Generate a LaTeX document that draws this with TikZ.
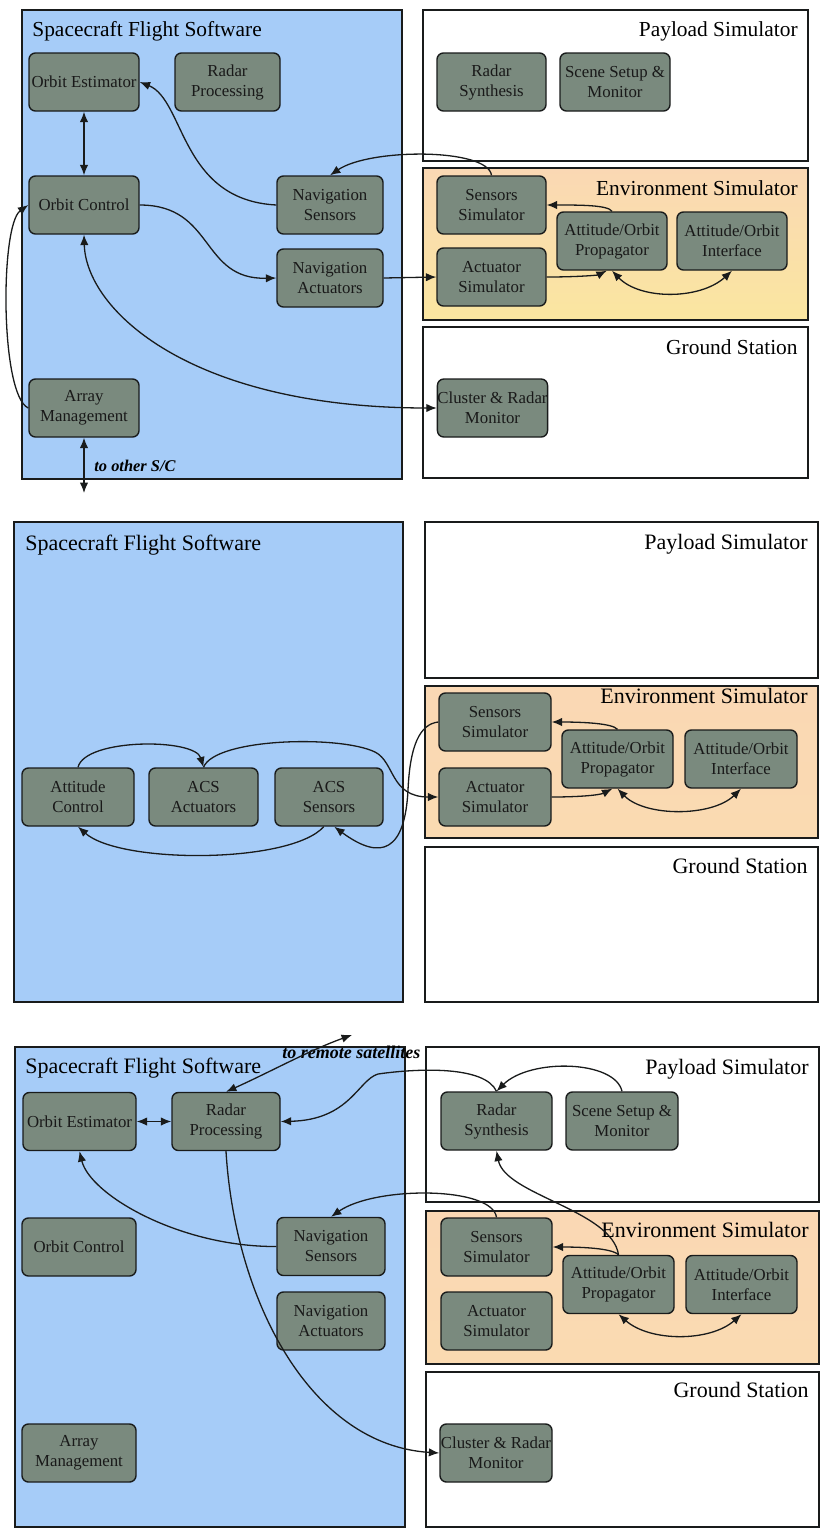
\documentclass[tikz,border=0pt]{standalone}
\usepackage{fontspec}
\setmainfont{Liberation Serif}
\newfontfamily\diagfont{Liberation Serif}
\usetikzlibrary{arrows.meta}

\definecolor{fswblue}{RGB}{166,204,248}
\definecolor{envpeach}{RGB}{250,216,180}
\definecolor{envyellow}{RGB}{250,230,160}
\definecolor{blockfill}{RGB}{122,138,126}
\definecolor{inkline}{RGB}{25,27,27}

\begin{document}
\begin{tikzpicture}[x=0.5pt,y=-0.5pt,
  blk/.style={draw=inkline, line width=0.7pt, fill=blockfill, rounded corners=3.2pt,
    minimum width=55pt, minimum height=29pt, inner sep=0pt, align=center,
    font=\diagfont\fontsize{8.4}{10}\selectfont, text=black!90},
  frame/.style={draw=inkline, line width=0.8pt},
  ttl/.style={font=\diagfont\fontsize{10.7}{12}\selectfont, inner sep=0pt},
  ttlb/.style={font=\diagfont\fontsize{11}{12}\selectfont, inner sep=0pt},
  tip/.tip={Latex[length=5.2pt,width=4.2pt]},
  lnk/.style={draw=inkline, line width=0.65pt, -tip},
  dlnk/.style={draw=inkline, line width=0.65pt, tip-tip},
  note/.style={font=\diagfont\fontsize{8.2}{10}\selectfont\bfseries\itshape, inner sep=0pt}
]
\useasboundingbox (0,0) rectangle (822,1532);
\fill[white] (0,0) rectangle (822,1532);

% ---------- first configuration: orbit control loop ----------
\filldraw[frame, fill=fswblue] (22,10) rectangle (402,479);
\filldraw[frame, fill=white] (423,10) rectangle (808,161);
\shade[top color=envpeach, bottom color=envyellow] (423,168) rectangle (808,320);
\draw[frame] (423,168) rectangle (808,320);
\filldraw[frame, fill=white] (423,327) rectangle (808,478);

\node[ttl, anchor=base west] (fswA) at (32,36) {Spacecraft Flight Software};
\node[ttl, anchor=base east] (payA) at (798,36) {Payload Simulator};
\node[ttl, anchor=base east] (envA) at (798,195) {Environment Simulator};
\node[ttl, anchor=base east] (gndA) at (798,354) {Ground Station};

\node[blk] (oeA) at (84,82) {Orbit Estimator};
\node[blk, minimum width=52.5pt] (rpA) at (227.5,82) {Radar\\Processing};
\node[blk] (ocA) at (84,205) {Orbit Control};
\node[blk, minimum width=53pt] (nsA) at (330,205) {Navigation\\Sensors};
\node[blk, minimum width=53pt] (naA) at (330,278) {Navigation\\Actuators};
\node[blk] (amA) at (84,408) {Array\\Management};

\node[blk, minimum width=54.5pt] (rsA) at (491.5,82) {Radar\\Synthesis};
\node[blk] (ssA) at (615,82) {Scene Setup \&\\Monitor};
\node[blk, minimum width=54.5pt] (snA) at (491.5,205) {Sensors\\Simulator};
\node[blk] (apA) at (612,241) {Attitude/Orbit\\Propagator};
\node[blk] (aiA) at (732,241) {Attitude/Orbit\\Interface};
\node[blk, minimum width=54.5pt] (atA) at (491.5,277) {Actuator\\Simulator};
\node[blk, minimum width=54.5pt] (crA) at (492.5,408) {Cluster \& Radar\\Monitor};

\coordinate (scA) at (84,493);
\node[note, anchor=base west] (toscA) at (94,471) {to other S/C};

\draw[dlnk] (oeA.south) -- (ocA.north);
\draw[lnk] (nsA.west) .. controls (180,200) and (185,100) .. (oeA.east);
\draw[lnk] (snA.north) .. controls (488,148) and (370,148) .. (nsA.north);
\draw[lnk] (ocA.east) .. controls (215,205) and (200,280) .. (naA.west);
\draw[lnk] (naA.east) -- (atA.west);
\draw[lnk] (atA.east) .. controls (580,277) and (598,275) .. (apA.-100);
\draw[lnk] (apA.north) .. controls (608,205) and (580,205) .. (snA.east);
\draw[dlnk] (apA.south) .. controls (640,300) and (700,300) .. (aiA.south);
\draw[dlnk] (ocA.south) .. controls (86,310) and (190,408) .. (crA.west);
\draw[lnk] (amA.west) .. controls (0,395) and (0,225) .. (ocA.west);
\draw[dlnk] (amA.south) -- (scA);

% ---------- second configuration: attitude control loop ----------
\filldraw[frame, fill=fswblue] (14,522) rectangle (403,1002);
\filldraw[frame, fill=white] (425,522) rectangle (818,678);
\shade[top color=envpeach, bottom color=envpeach!85!envyellow] (425,686) rectangle (818,838);
\draw[frame] (425,686) rectangle (818,838);
\filldraw[frame, fill=white] (425,847) rectangle (818,1002);

\node[ttlb, anchor=base west] (fswB) at (25,550) {Spacecraft Flight Software};
\node[ttlb, anchor=base east] (payB) at (808,549) {Payload Simulator};
\node[ttlb, anchor=base east] (envB) at (808,703) {Environment Simulator};
\node[ttlb, anchor=base east] (gndB) at (808,873) {Ground Station};

\node[blk, minimum width=56pt] (acB) at (78,797) {Attitude\\Control};
\node[blk, minimum width=54.5pt] (aaB) at (203.5,797) {ACS\\Actuators};
\node[blk, minimum width=54pt] (asB) at (329,797) {ACS\\Sensors};

\node[blk, minimum width=56pt] (snB) at (495,722) {Sensors\\Simulator};
\node[blk, minimum width=55.5pt] (apB) at (617.5,759) {Attitude/Orbit\\Propagator};
\node[blk, minimum width=56pt] (aiB) at (741,759) {Attitude/Orbit\\Interface};
\node[blk, minimum width=56pt] (atB) at (495,797) {Actuator\\Simulator};

\draw[lnk] (acB.north) .. controls (85,738) and (195,738) .. (aaB.north);
\draw[lnk] (aaB.north) .. controls (215,738) and (340,735) .. (375,752)
  .. controls (395,762) and (390,797) .. (atB.west);
\draw[lnk] (atB.east) .. controls (580,797) and (600,795) .. (apB.-100);
\draw[lnk] (apB.north) .. controls (612,723) and (580,722) .. (snB.east);
\draw[dlnk] (apB.south) .. controls (645,817) and (712,817) .. (aiB.south);
\draw[lnk] (snB.west) .. controls (420,724) and (410,745) .. (408,790)
  .. controls (405,850) and (382,862) .. (asB.-80);
\draw[lnk] (asB.-100) .. controls (290,864) and (120,864) .. (acB.south);

% ---------- third configuration: radar processing loop ----------
\filldraw[frame, fill=fswblue] (15,1047) rectangle (405,1527);
\filldraw[frame, fill=white] (426,1047) rectangle (819,1202);
\shade[top color=envpeach, bottom color=envpeach!85!envyellow] (426,1211) rectangle (819,1364);
\draw[frame] (426,1211) rectangle (819,1364);
\filldraw[frame, fill=white] (426,1372) rectangle (819,1527);

\node[ttlb, anchor=base west] (fswC) at (25,1073) {Spacecraft Flight Software};
\node[ttlb, anchor=base east] (payC) at (809,1074) {Payload Simulator};
\node[ttlb, anchor=base east] (envC) at (809,1237) {Environment Simulator};
\node[ttlb, anchor=base east] (gndC) at (809,1397) {Ground Station};

\node[blk, minimum width=56.5pt] (oeC) at (79.5,1121.5) {Orbit Estimator};
\node[blk, minimum width=54pt] (rpC) at (226,1121.5) {Radar\\Processing};
\node[blk, minimum width=57pt] (ocC) at (79,1247) {Orbit Control};
\node[blk, minimum width=54pt] (nsC) at (331,1246.5) {Navigation\\Sensors};
\node[blk, minimum width=54pt] (naC) at (331,1321) {Navigation\\Actuators};
\node[blk, minimum width=57pt] (amC) at (79,1453) {Array\\Management};

\node[blk, minimum width=55.5pt] (rsC) at (496.5,1121) {Radar\\Synthesis};
\node[blk, minimum width=56pt] (ssC) at (622,1121) {Scene Setup \&\\Monitor};
\node[blk, minimum width=55.5pt] (snC) at (496.5,1247) {Sensors\\Simulator};
\node[blk, minimum width=55.5pt] (apC) at (618.5,1284.5) {Attitude/Orbit\\Propagator};
\node[blk, minimum width=55.5pt] (aiC) at (741.5,1284.5) {Attitude/Orbit\\Interface};
\node[blk, minimum width=55.5pt] (atC) at (496.5,1321) {Actuator\\Simulator};
\node[blk, minimum width=56pt] (crC) at (496,1453) {Cluster \& Radar\\Monitor};

\coordinate (remC) at (352,1035);
\node[note, font=\diagfont\fontsize{9}{10}\selectfont\bfseries\itshape, anchor=base west] (toremC) at (282,1058) {to remote satellites};

\draw[dlnk] (oeC.east) -- (rpC.west);
\draw[dlnk] (rpC.north) .. controls (270,1072) and (310,1050) .. (remC);
\draw[lnk] (rsC.north) .. controls (485,1066) and (420,1068) .. (378,1074)
  .. controls (358,1080) and (350,1120) .. (rpC.east);
\draw[lnk] (ssC.north) .. controls (615,1060) and (530,1058) .. (rsC.north);
\draw[lnk] (apC.north) .. controls (612,1210) and (505,1195) .. (rsC.south);
\draw[lnk] (apC.north) .. controls (612,1248) and (580,1247) .. (snC.east);
\draw[lnk] (snC.north) .. controls (492,1186) and (375,1186) .. (nsC.north);
\draw[lnk] (nsC.west) .. controls (180,1247) and (90,1195) .. (oeC.south);
\draw[lnk] (rpC.south) .. controls (235,1300) and (310,1445) .. (crC.west);
\draw[dlnk] (apC.south) .. controls (650,1342) and (710,1342) .. (aiC.south);

\end{tikzpicture}
\end{document}
